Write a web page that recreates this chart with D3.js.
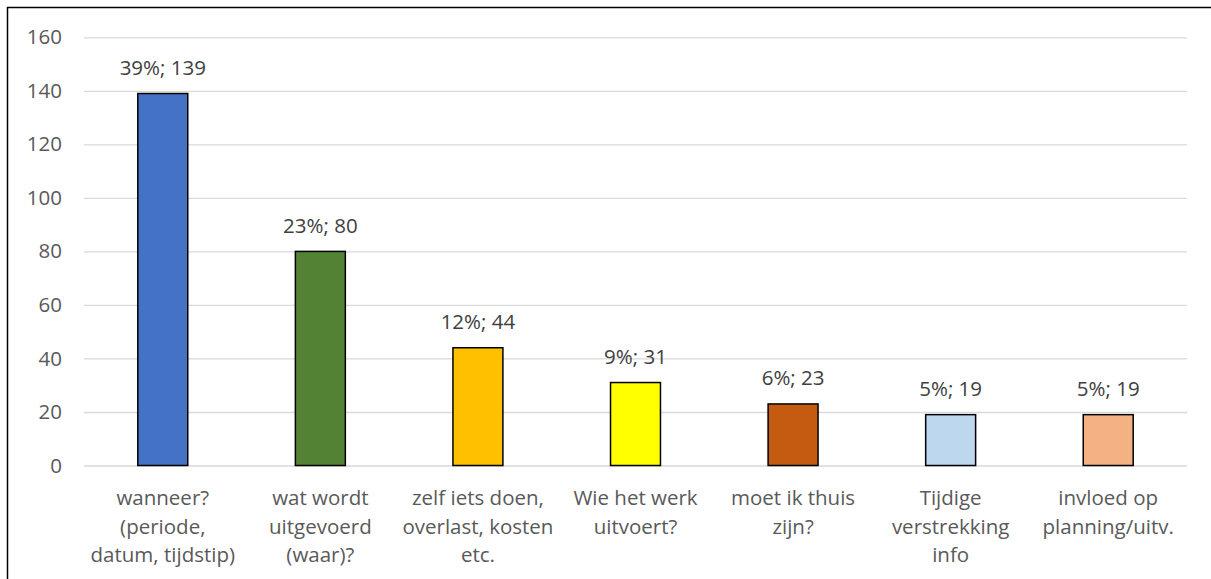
<!DOCTYPE html>
<html><head><meta charset="utf-8">
<script src="https://cdn.jsdelivr.net/npm/d3@7"></script>
<style>body{margin:0;background:#fff;} svg{display:block;}</style>
</head><body>
<svg id="c" width="1211" height="579"></svg>
<script>
const categories = [
  "wanneer?\n(periode,\ndatum, tijdstip)",
  "wat wordt\nuitgevoerd\n(waar)?",
  "zelf iets doen,\noverlast, kosten\netc.",
  "Wie het werk\nuitvoert?",
  "moet ik thuis\nzijn?",
  "Tijdige\nverstrekking\ninfo",
  "invloed op\nplanning/uitv."
];
const values = [139, 80, 44, 31, 23, 19, 19];
const percentages = ["39%", "23%", "12%", "9%", "6%", "5%", "5%"];
const colors = ["#4472C4", "#548235", "#FFC000", "#FFFF00", "#C55A11", "#BDD7EE", "#F4B183"];
const yTicks = [0, 20, 40, 60, 80, 100, 120, 140, 160];

const svg = d3.select("#c");
const font = "'Open Sans', sans-serif";
const fs = "20.5px";
const L = 84, R = 1187, T = 37.3, B = 465.5;

svg.append("rect").attr("x", 7.5).attr("y", 7.5).attr("width", 1400).attr("height", 800)
  .attr("fill", "#fff").attr("stroke", "#000").attr("stroke-width", 1.5);

const x = d3.scaleBand().domain(categories).range([L, R]).paddingInner(0.683).paddingOuter(0.3415);
const y = d3.scaleLinear().domain([0, 160]).range([B, T]);

const yAxis = d3.axisLeft(y).tickValues(yTicks).tickSize(-(R - L)).tickPadding(22);
const gy = svg.append("g").attr("transform", `translate(${L},0)`).call(yAxis);
gy.select(".domain").remove();
gy.selectAll(".tick line").attr("stroke", "#D9D9D9").attr("stroke-width", 1.3);
gy.selectAll(".tick text").attr("fill", "#595959").style("font-family", font).style("font-size", fs);

svg.append("g").selectAll("rect").data(values).join("rect")
  .attr("x", (d, i) => x(categories[i]))
  .attr("y", d => y(d))
  .attr("width", x.bandwidth())
  .attr("height", d => y(0) - y(d))
  .attr("fill", (d, i) => colors[i])
  .attr("stroke", "#000").attr("stroke-width", 1.5);

svg.append("g").selectAll("text").data(values).join("text")
  .attr("x", (d, i) => x(categories[i]) + x.bandwidth() / 2)
  .attr("y", d => y(d) - 18.5)
  .attr("text-anchor", "middle")
  .attr("fill", "#404040")
  .style("font-family", font).style("font-size", fs)
  .text((d, i) => `${percentages[i]}; ${d}`);

const xl = svg.append("g").selectAll("text").data(categories).join("text")
  .attr("text-anchor", "middle")
  .attr("fill", "#595959")
  .style("font-family", font).style("font-size", fs);
xl.each(function(c) {
  const t = d3.select(this);
  const cx = x(c) + x.bandwidth() / 2;
  c.split("\n").forEach((line, k) => {
    t.append("tspan").attr("x", cx).attr("y", 505 + k * 28.5).text(line);
  });
});
</script>
</body></html>
